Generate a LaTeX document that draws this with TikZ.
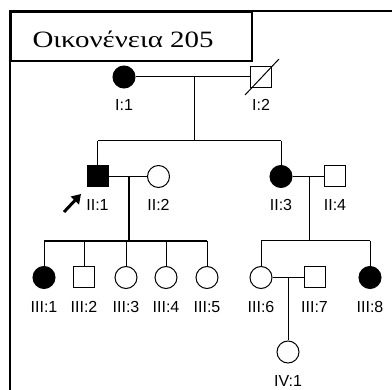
\documentclass[tikz,border=0pt]{standalone}
\usepackage{graphicx}
\usepackage{fontspec}
\setmainfont{Liberation Serif}
\setsansfont{Liberation Sans}
\usetikzlibrary{arrows.meta}
\begin{document}
\begin{tikzpicture}[x=1pt,y=-1pt,
  line width=1pt,
  male/.style={draw, rectangle, minimum size=21pt, inner sep=0pt},
  female/.style={draw, circle, minimum size=22pt, inner sep=0pt},
  affected/.style={fill=black},
  lab/.style={font=\sffamily\fontsize{16}{16}\selectfont, inner sep=0pt},
  frameline/.style={line width=2pt},
  link/.style={line width=1pt},
  thicklink/.style={line width=1.4pt}]
\useasboundingbox (0,0) rectangle (392,390);
% frame
\coordinate (fTR) at (400,11);
\coordinate (fTL) at (10,11);
\coordinate (fBL) at (10,400);
\draw[frameline] (fTR) -- (fTL) -- (fBL);
\node[draw, frameline, anchor=north west, minimum width=241pt, minimum height=49pt, inner sep=0pt] (tbox) at (10,11) {};
\node[anchor=base west, inner sep=0pt] (title) at (32,48) {\resizebox{181pt}{16.5pt}{Οικονένεια 205}};
% generation I
\node[female, affected] (I1) at (124,77) {};
\node[male] (I2) at (260.5,77) {};
\coordinate (d1a) at (245,95);
\coordinate (d1b) at (279,59);
\draw[link] (d1a) -- (d1b);
\node[lab] (lI1) at (124,105) {I:1};
\node[lab] (lI2) at (261,105) {I:2};
\draw[link] (I1.east) -- (I2.west);
\coordinate (m1) at (194,77);
\coordinate (s1) at (194,141);
\coordinate (s1L) at (97.5,141);
\coordinate (s1R) at (281,141);
\draw[link] (m1) -- (s1);
% generation II
\node[male, affected] (II1) at (97.5,176.5) {};
\node[female] (II2) at (158.5,176.5) {};
\node[female, affected] (II3) at (281,176.5) {};
\node[male] (II4) at (335,176.5) {};
\draw[link] (s1L) -- (s1R);
\draw[link] (s1L) -- (II1.north);
\draw[link] (s1R) -- (II3.north);
\draw[link] (II1.east) -- (II2.west);
\draw[link] (II3.east) -- (II4.west);
\node[lab] (lII1) at (97.5,205) {II:1};
\node[lab] (lII2) at (158.5,205) {II:2};
\node[lab] (lII3) at (281,205) {II:3};
\node[lab] (lII4) at (335,205) {II:4};
\coordinate (pa) at (64,212);
\coordinate (pb) at (81,194);
\draw[line width=3pt, -{Triangle[length=9pt,width=11pt]}] (pa) -- (pb);
% generation III
\node[female, affected] (III1) at (44,277.5) {};
\node[male] (III2) at (84,277.5) {};
\node[female] (III3) at (126,277.5) {};
\node[female] (III4) at (166,277.5) {};
\node[female] (III5) at (207,277.5) {};
\node[female] (III6) at (261,277.5) {};
\node[male] (III7) at (314.5,277.5) {};
\node[female, affected] (III8) at (370,277.5) {};
\coordinate (m2) at (129,176.5);
\coordinate (s2) at (129,241);
\coordinate (s2L) at (44,241);
\coordinate (s2R) at (207,241);
\draw[thicklink] (m2) -- (s2);
\draw[thicklink] (s2L) -- (s2R);
\foreach \c in {III1,III2,III3,III4,III5} {
  \draw[link] (\c.north |- s2) -- (\c.north);
}
\coordinate (m3) at (309,176.5);
\coordinate (s3) at (309,241);
\coordinate (s3L) at (261,241);
\coordinate (s3R) at (370,241);
\draw[link] (m3) -- (s3);
\draw[link] (s3L) -- (s3R);
\draw[link] (s3L) -- (III6.north);
\draw[link] (s3R) -- (III8.north);
\draw[link] (III6.east) -- (III7.west);
\node[lab] (lIII1) at (44,307) {III:1};
\node[lab] (lIII2) at (84,307) {III:2};
\node[lab] (lIII3) at (126,307) {III:3};
\node[lab] (lIII4) at (166,307) {III:4};
\node[lab] (lIII5) at (207,307) {III:5};
\node[lab] (lIII6) at (261,307) {III:6};
\node[lab] (lIII7) at (314.5,307) {III:7};
\node[lab] (lIII8) at (370,307) {III:8};
% generation IV
\node[female] (IV1) at (288,352) {};
\coordinate (m4) at (288,277.5);
\draw[link] (m4) -- (IV1.north);
\node[lab] (lIV1) at (288,381) {IV:1};
\end{tikzpicture}
\end{document}
